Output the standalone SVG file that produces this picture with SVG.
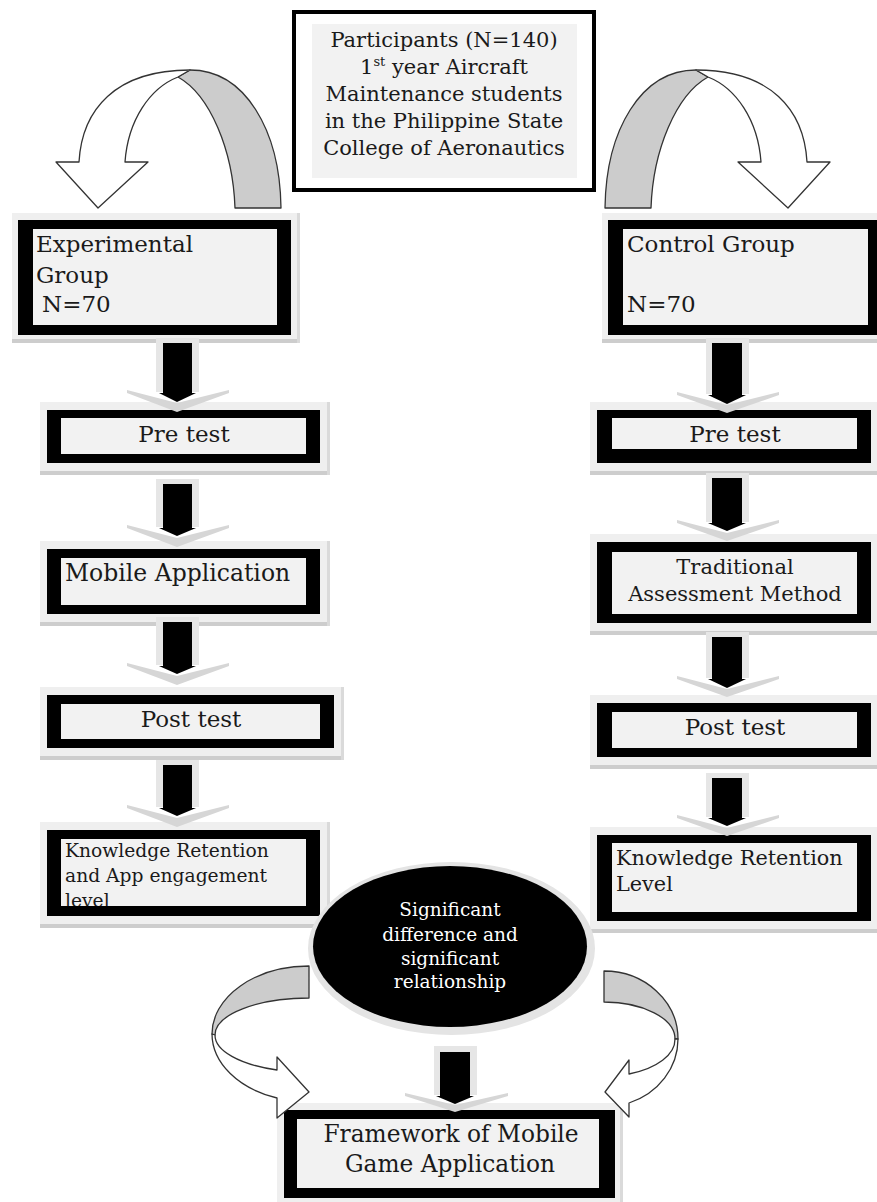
<svg xmlns="http://www.w3.org/2000/svg" width="877" height="1202" viewBox="0 0 877 1202">
<style>
text { font-family: "DejaVu Serif", "Liberation Serif", serif; fill: #1a1a1a; }
.glow { fill: #efefef; }
.sh { fill: #cdcdcd; }
.shr { fill: #dadada; }
.blk { fill: #000; }
.inner { fill: #f2f2f2; }
.t23 { font-size: 23px; }
.t21 { font-size: 21px; }
.mid { text-anchor: middle; }
.wtxt { fill: #ffffff; font-size: 18.5px; text-anchor: middle; }
.outline { stroke: #333; stroke-width: 1.3; stroke-linejoin: round; }
.bw { fill: #ffffff; }
.bg { fill: #cccccc; }
.shaftbg { fill: #e6e6e6; }
.chev { fill: #d6d6d6; }
</style>
<defs>
<clipPath id="clipKL"><rect x="61" y="839" width="245" height="67"/></clipPath>
</defs>

<g id="participants">
<rect x="294" y="12" width="300" height="178" fill="#fff" stroke="#000" stroke-width="4"/>
<rect class="inner" x="312" y="24" width="265" height="154"/>
<text class="t21 mid" x="444" y="47">Participants (N=140)</text>
<text class="t21 mid" x="444" y="74">1<tspan font-size="13" dy="-8">st</tspan><tspan dy="8"> year Aircraft</tspan></text>
<text class="t21 mid" x="444" y="101">Maintenance students</text>
<text class="t21 mid" x="444" y="128">in the Philippine State</text>
<text class="t21 mid" x="444" y="155">College of Aeronautics</text>
</g>

<g id="experimental">
<rect class="glow" x="12" y="213" width="288" height="130"/>
<rect class="sh" x="12" y="339" width="288" height="4"/>
<rect class="shr" x="297" y="213" width="3" height="130"/>
<rect class="blk" x="18" y="220" width="273" height="115"/>
<rect class="inner" x="33" y="229" width="244" height="96"/>
<text class="t23" x="36" y="252">Experimental</text>
<text class="t23" x="36" y="283">Group</text>
<text class="t23" x="42" y="312">N=70</text>
</g>

<g id="control">
<rect class="glow" x="602" y="213" width="275" height="130"/>
<rect class="sh" x="602" y="339" width="275" height="4"/>
<rect class="blk" x="608" y="220" width="274" height="115"/>
<rect class="inner" x="623" y="229" width="245" height="96"/>
<text class="t23" x="627" y="252">Control Group</text>
<text class="t23" x="627" y="312">N=70</text>
</g>

<g id="pretest-left">
<rect class="glow" x="40" y="402" width="290" height="73"/>
<rect class="sh" x="40" y="471" width="290" height="4"/>
<rect class="shr" x="327" y="402" width="3" height="73"/>
<rect class="blk" x="47" y="410" width="273" height="53"/>
<rect class="inner" x="61" y="418" width="245" height="36"/>
<text class="t23 mid" x="184" y="442">Pre test</text>
</g>

<g id="mobile-app">
<rect class="glow" x="40" y="541" width="290" height="85"/>
<rect class="sh" x="40" y="622" width="290" height="4"/>
<rect class="shr" x="327" y="541" width="3" height="85"/>
<rect class="blk" x="47" y="549" width="273" height="65"/>
<rect class="inner" x="61" y="558" width="245" height="47"/>
<text x="65" y="581" font-size="23.5">Mobile Application</text>
</g>

<g id="posttest-left">
<rect class="glow" x="40" y="687" width="304" height="73"/>
<rect class="sh" x="40" y="756" width="304" height="4"/>
<rect class="shr" x="341" y="687" width="3" height="73"/>
<rect class="blk" x="47" y="695" width="287" height="53"/>
<rect class="inner" x="61" y="704" width="259" height="35"/>
<text class="t23 mid" x="191" y="727">Post test</text>
</g>

<g id="knowledge-left">
<rect class="glow" x="40" y="822" width="290" height="106"/>
<rect class="sh" x="40" y="924" width="290" height="4"/>
<rect class="shr" x="327" y="822" width="3" height="106"/>
<rect class="blk" x="47" y="830" width="273" height="86"/>
<rect class="inner" x="61" y="839" width="245" height="67"/>
<g clip-path="url(#clipKL)" font-size="18.7">
<text x="65" y="857">Knowledge Retention</text>
<text x="65" y="882">and App engagement</text>
<text x="65" y="907">level</text>
</g>
</g>

<g id="pretest-right">
<rect class="glow" x="590" y="402" width="287" height="73"/>
<rect class="sh" x="590" y="471" width="287" height="4"/>
<rect class="blk" x="597" y="410" width="274" height="53"/>
<rect class="inner" x="612" y="418" width="245" height="31"/>
<text class="t23 mid" x="735" y="442">Pre test</text>
</g>

<g id="traditional">
<rect class="glow" x="590" y="534" width="287" height="101"/>
<rect class="sh" x="590" y="631" width="287" height="4"/>
<rect class="blk" x="597" y="542" width="274" height="81"/>
<rect class="inner" x="612" y="552" width="245" height="62"/>
<text class="t21 mid" x="735" y="574">Traditional</text>
<text class="t21 mid" x="735" y="601">Assessment Method</text>
</g>

<g id="posttest-right">
<rect class="glow" x="590" y="695" width="287" height="74"/>
<rect class="sh" x="590" y="765" width="287" height="4"/>
<rect class="blk" x="597" y="703" width="274" height="54"/>
<rect class="inner" x="612" y="712" width="245" height="36"/>
<text class="t23 mid" x="735" y="735">Post test</text>
</g>

<g id="knowledge-right">
<rect class="glow" x="590" y="827" width="287" height="106"/>
<rect class="sh" x="590" y="929" width="287" height="4"/>
<rect class="blk" x="597" y="835" width="274" height="86"/>
<rect class="inner" x="612" y="843" width="245" height="69"/>
<text x="616" y="865" font-size="20.8">Knowledge Retention</text>
<text x="616" y="891" font-size="20.8">Level</text>
</g>

<g id="significance">
<ellipse cx="451.5" cy="948.5" rx="143.5" ry="86.5" fill="#e4e4e4"/>
<ellipse cx="450" cy="946.5" rx="137" ry="80.5" fill="#000"/>
<text class="wtxt" x="450" y="916">Significant</text>
<text class="wtxt" x="450" y="941">difference and</text>
<text class="wtxt" x="450" y="965">significant</text>
<text class="wtxt" x="450" y="988">relationship</text>
</g>

<g id="framework">
<rect class="glow" x="277" y="1103" width="346" height="99"/>
<rect class="shr" x="620" y="1103" width="3" height="99"/>
<rect class="blk" x="284" y="1110" width="331" height="88"/>
<rect class="inner" x="297" y="1119" width="302" height="69"/>
<text class="mid" x="451" y="1142" font-size="23.3">Framework of Mobile</text>
<text class="mid" x="450" y="1172" font-size="23.3">Game Application</text>
</g>

<g id="connectors">
<g id="curve-top-left">
<path class="bg outline" d="M178 77 L190 70 C245 70 280 130 281 208 L235 208 C233 150 210 95 178 77 Z"/>
<path class="bw outline" d="M79 162 C82 110 115 70 190 70 L178 77 C150 88 128 120 125 162 L148 162 L98 208 L56 162 Z"/>
</g>
<g id="curve-top-right" transform="matrix(-1 0 0 1 886 0)">
<path class="bg outline" d="M178 77 L190 70 C245 70 280 130 281 208 L235 208 C233 150 210 95 178 77 Z"/>
<path class="bw outline" d="M79 162 C82 110 115 70 190 70 L178 77 C150 88 128 120 125 162 L148 162 L98 208 L56 162 Z"/>
</g>
<g id="curve-bottom-left">
<path class="bg outline" d="M309 966 A97 68 0 0 0 212 1034 L215 1035 A94 37 0 0 1 309 998 Z"/>
<path class="bw outline" d="M212 1034 A97 68 0 0 0 277 1098 L277 1118 L309 1092 L277 1057 L277 1070 A94 37 0 0 1 215 1035 Z"/>
</g>
<g id="curve-bottom-right">
<path class="bg outline" d="M604 971 A74 68 0 0 1 678 1039 L675 1039 A71 37 0 0 0 604 1002 Z"/>
<path class="bw outline" d="M678 1039 A74 68 0 0 1 629 1103 L629 1117 L605 1092 L629 1060 L629 1074 A71 37 0 0 0 675 1039 Z"/>
</g>

<g id="arrow-l1">
<rect class="shaftbg" x="156" y="338" width="43" height="54"/>
<polygon class="chev" points="127,390 177,403 229,390 229,393 177,412 127,393"/>
<rect class="blk" x="163" y="343" width="29" height="50"/>
<polygon class="blk" points="159,393 196,393 177,402"/>
</g>
<g id="arrow-l2">
<rect class="shaftbg" x="156" y="479" width="43" height="48"/>
<polygon class="chev" points="127,525 177,538 229,525 229,528 177,547 127,528"/>
<rect class="blk" x="163" y="484" width="29" height="44"/>
<polygon class="blk" points="159,528 196,528 177,536"/>
</g>
<g id="arrow-l3">
<rect class="shaftbg" x="156" y="617" width="43" height="48"/>
<polygon class="chev" points="127,663 177,676 229,663 229,666 177,685 127,666"/>
<rect class="blk" x="163" y="622" width="29" height="44"/>
<polygon class="blk" points="159,666 196,666 177,674"/>
</g>
<g id="arrow-l4">
<rect class="shaftbg" x="156" y="760" width="43" height="47"/>
<polygon class="chev" points="127,805 177,818 229,805 229,808 177,827 127,808"/>
<rect class="blk" x="163" y="765" width="29" height="43"/>
<polygon class="blk" points="159,808 196,808 177,816"/>
</g>
<g id="arrow-r1">
<rect class="shaftbg" x="706" y="338" width="43" height="56"/>
<polygon class="chev" points="677,392 727,405 779,392 779,395 727,413 677,395"/>
<rect class="blk" x="712" y="343" width="30" height="52"/>
<polygon class="blk" points="708,395 746,395 727,404"/>
</g>
<g id="arrow-r2">
<rect class="shaftbg" x="706" y="473" width="43" height="49"/>
<polygon class="chev" points="677,520 727,533 779,520 779,523 727,541 677,523"/>
<rect class="blk" x="712" y="478" width="30" height="45"/>
<polygon class="blk" points="708,523 746,523 727,531"/>
</g>
<g id="arrow-r3">
<rect class="shaftbg" x="706" y="632" width="43" height="46"/>
<polygon class="chev" points="677,676 727,689 779,676 779,679 727,697 677,679"/>
<rect class="blk" x="712" y="637" width="30" height="42"/>
<polygon class="blk" points="708,679 746,679 727,688"/>
</g>
<g id="arrow-r4">
<rect class="shaftbg" x="706" y="773" width="43" height="44"/>
<polygon class="chev" points="677,815 727,828 779,815 779,818 727,836 677,818"/>
<rect class="blk" x="712" y="778" width="30" height="40"/>
<polygon class="blk" points="708,818 746,818 727,826"/>
</g>
<g id="arrow-bottom">
<rect class="shaftbg" x="434" y="1046" width="43" height="49"/>
<polygon class="chev" points="405,1093 455,1105 508,1093 508,1096 455,1112 405,1096"/>
<rect class="blk" x="440" y="1052" width="30" height="44"/>
<polygon class="blk" points="436,1096 474,1096 455,1104"/>
</g>
</g>
</svg>
